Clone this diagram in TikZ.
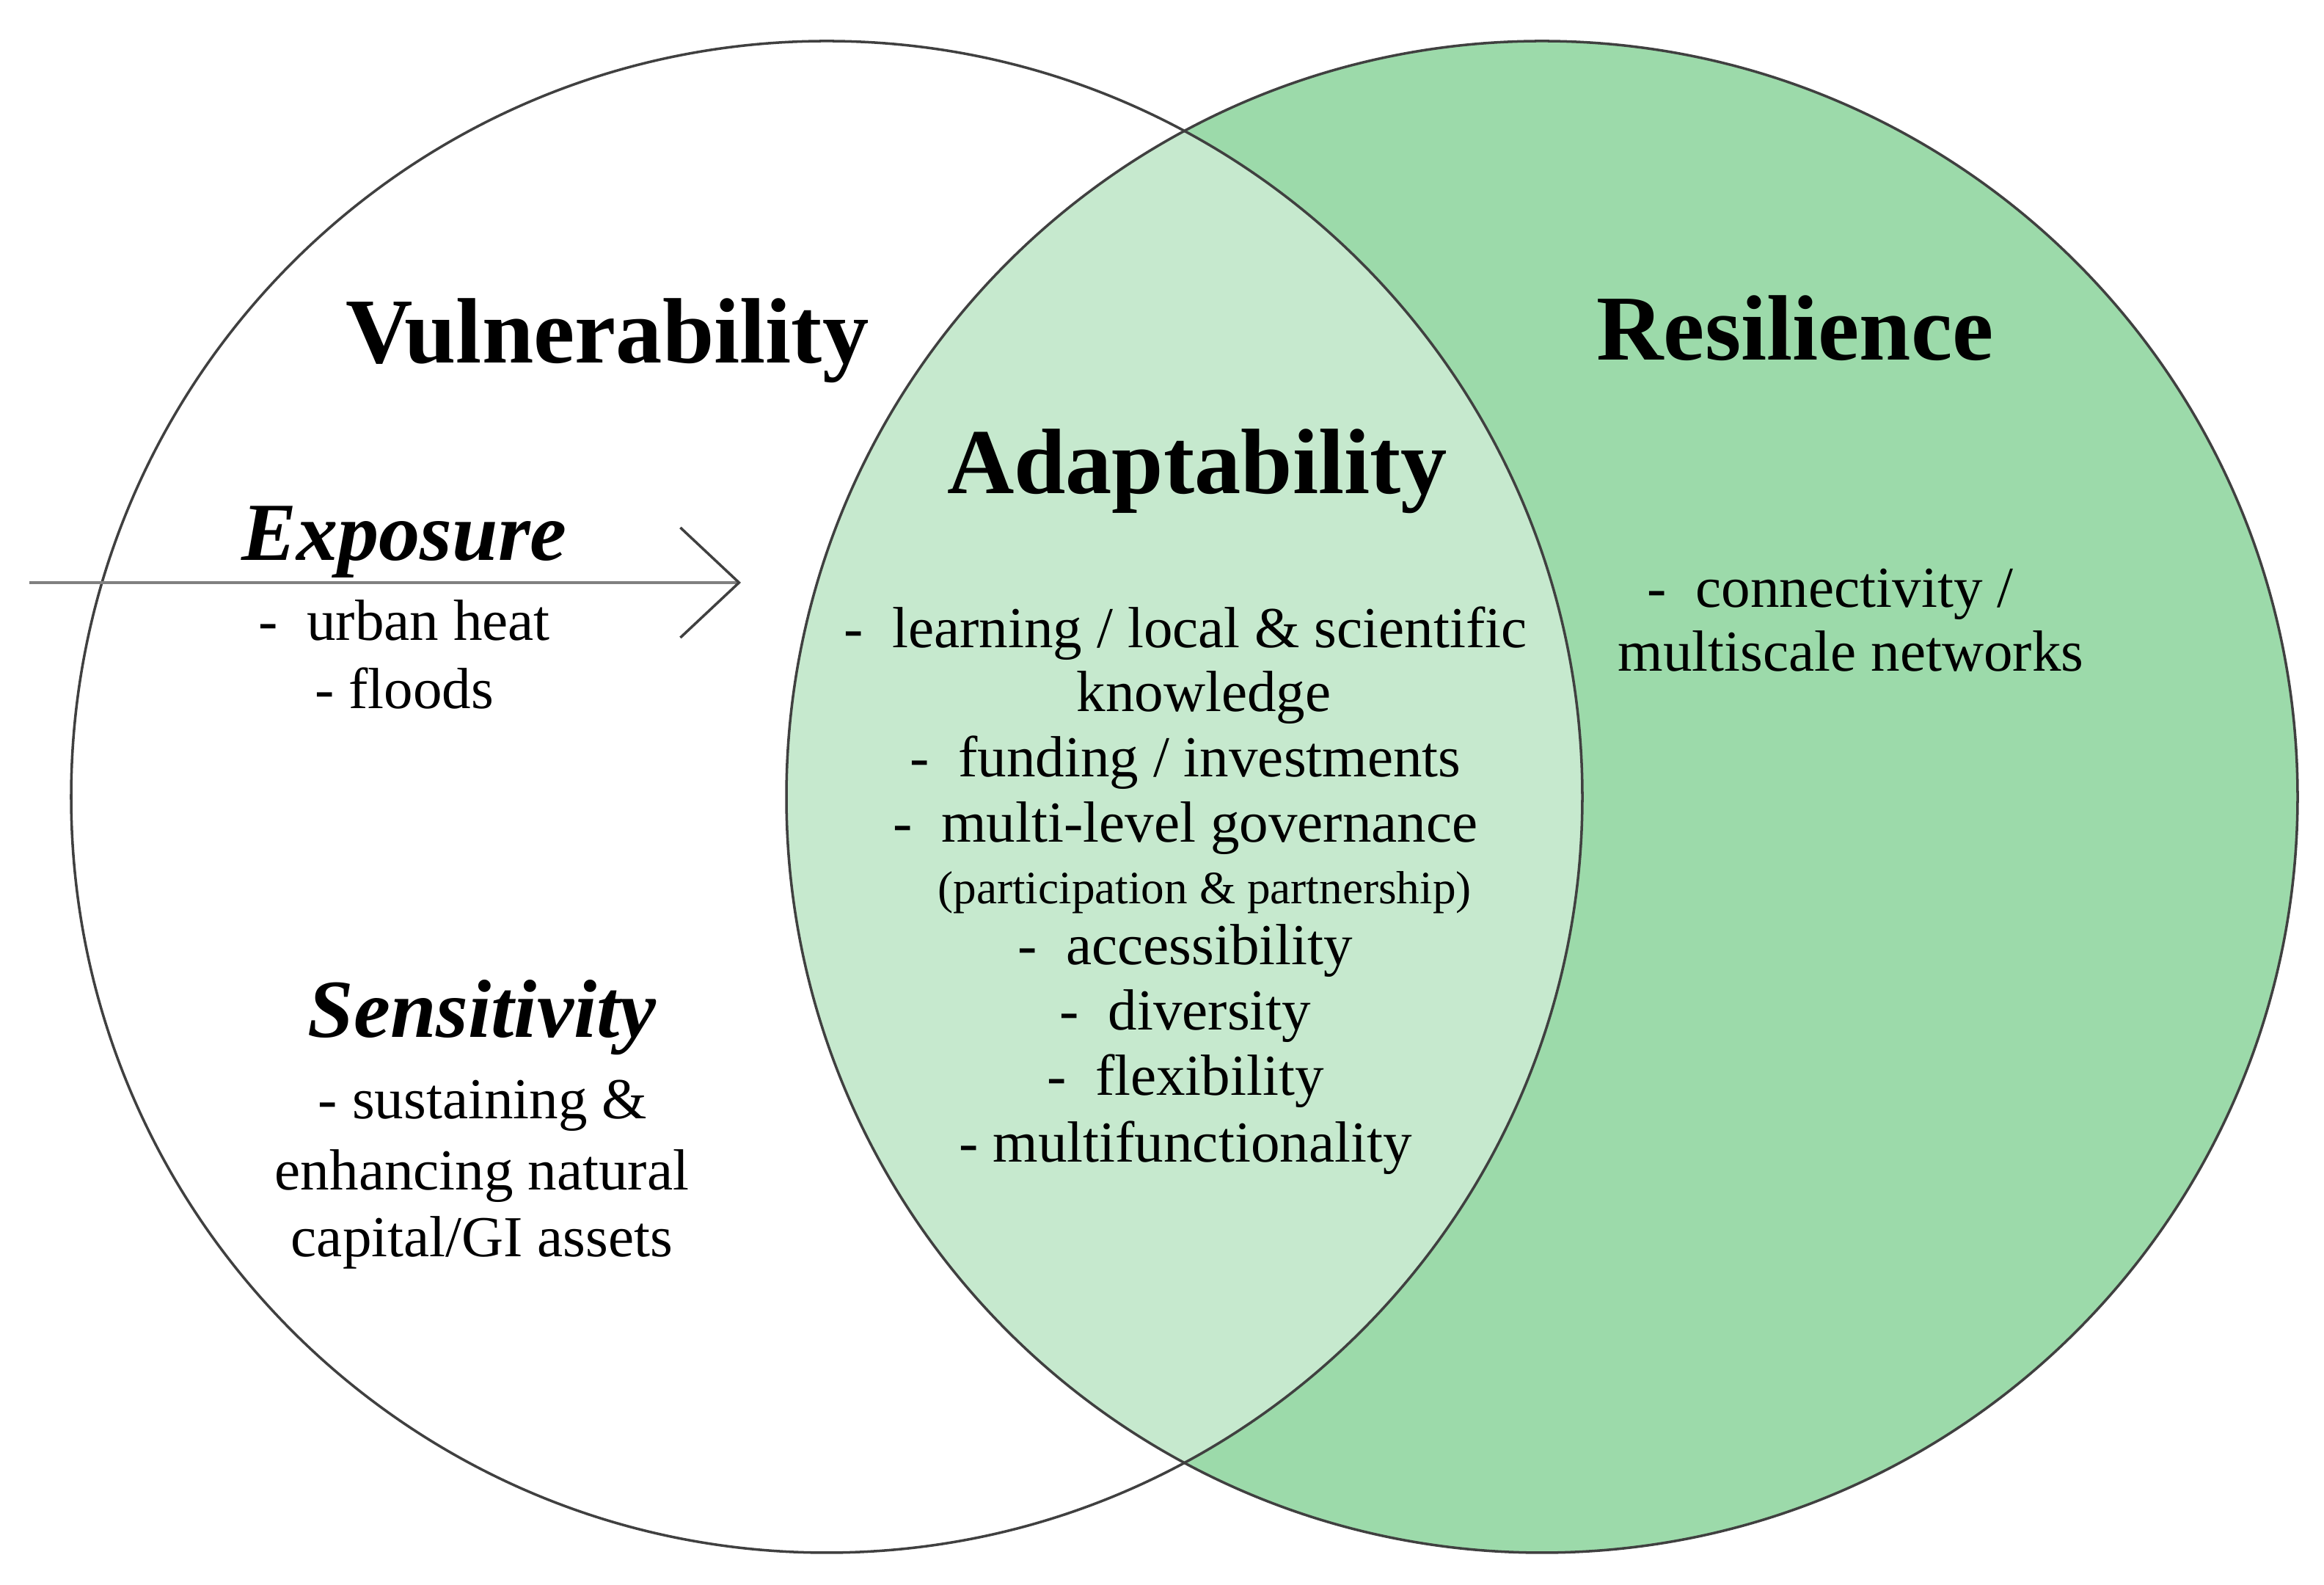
\documentclass[tikz,border=0pt]{standalone}
\usepackage{fontspec}
\setmainfont{Liberation Serif}
\usetikzlibrary{arrows.meta}
\definecolor{resgreen}{RGB}{156,218,170}
\definecolor{adaptgreen}{RGB}{198,233,206}

\begin{document}
\begin{tikzpicture}[
	title/.style={font=\fontsize{36}{40}\selectfont\bfseries, anchor=base},
	factor/.style={font=\fontsize{32}{36}\selectfont\bfseries\itshape, anchor=base},
	item/.style={font=\fontsize{22.5}{26}\selectfont, anchor=base},
	smallitem/.style={font=\fontsize{18}{20}\selectfont, anchor=base},
	circ/.style={draw=black!75, line width=1pt}]
	\useasboundingbox (0,0) rectangle (31.68,21.6);
	\def\r{10.3} % radius
	\coordinate (V) at (11.27,10.74);
	\coordinate (R) at (21.02,10.74);
	
	% fill resilience circle and the overlap
	\fill[resgreen] (R) circle (\r);
	\begin{scope}
		\clip (V) circle (\r);
		\fill[adaptgreen] (R) circle (\r);
	\end{scope}
	\draw[circ] (V) circle (\r);
	\draw[circ] (R) circle (\r);
	
	% titles
	\node[title] (vul) at (8.28,16.65) {Vulnerability};
	\node[title] (res) at (24.47,16.69) {Resilience};
	\node[title] (ada) at (16.32,14.87) {Adaptability};
	
	% exposure arrow
	\coordinate (arrstart) at (0.40,13.66);
	\coordinate (arrend) at (10.10,13.66);
	\draw[black!50, line width=1.3pt,
	-{Straight Barb[length=8mm, width=15mm, line width=1pt, color=black!75]}]
	(arrstart) -- (arrend);
	
	% exposure
	\node[factor] (exp) at (5.51,13.96) {Exposure};
	\node[item] (heat) at (5.51,12.87) {- \ urban heat};
	\node[item] (flood) at (5.51,11.94) {- floods};
	
	% sensitivity
	\node[factor] (sen) at (6.57,7.46) {Sensitivity};
	\node[item] (sen1) at (6.58,6.35) {- sustaining \&};
	\node[item] (sen2) at (6.57,5.38) {enhancing natural};
	\node[item] (sen3) at (6.57,4.47) {capital/GI assets};
	
	% adaptability items
	\node[item] (ada1) at (16.16,12.77) {- \ learning / local \& scientific};
	\node[item] (ada2) at (16.41,11.90) {knowledge};
	\node[item] (ada3) at (16.16,11.01) {- \ funding / investments};
	\node[item] (ada4) at (16.16,10.12) {- \ multi-level governance};
	\node[smallitem] (ada5) at (16.42,9.28) {(participation \& partnership)};
	\node[item] (ada6) at (16.16,8.45) {- \ accessibility};
	\node[item] (ada7) at (16.16,7.56) {- \ diversity};
	\node[item] (ada8) at (16.16,6.67) {- \ flexibility};
	\node[item] (ada9) at (16.16,5.76) {- multifunctionality};
	
	% resilience items
	\node[item] (res1) at (24.95,13.32) {- \ connectivity /};
	\node[item] (res2) at (25.23,12.45) {multiscale networks};
\end{tikzpicture}
\end{document}
